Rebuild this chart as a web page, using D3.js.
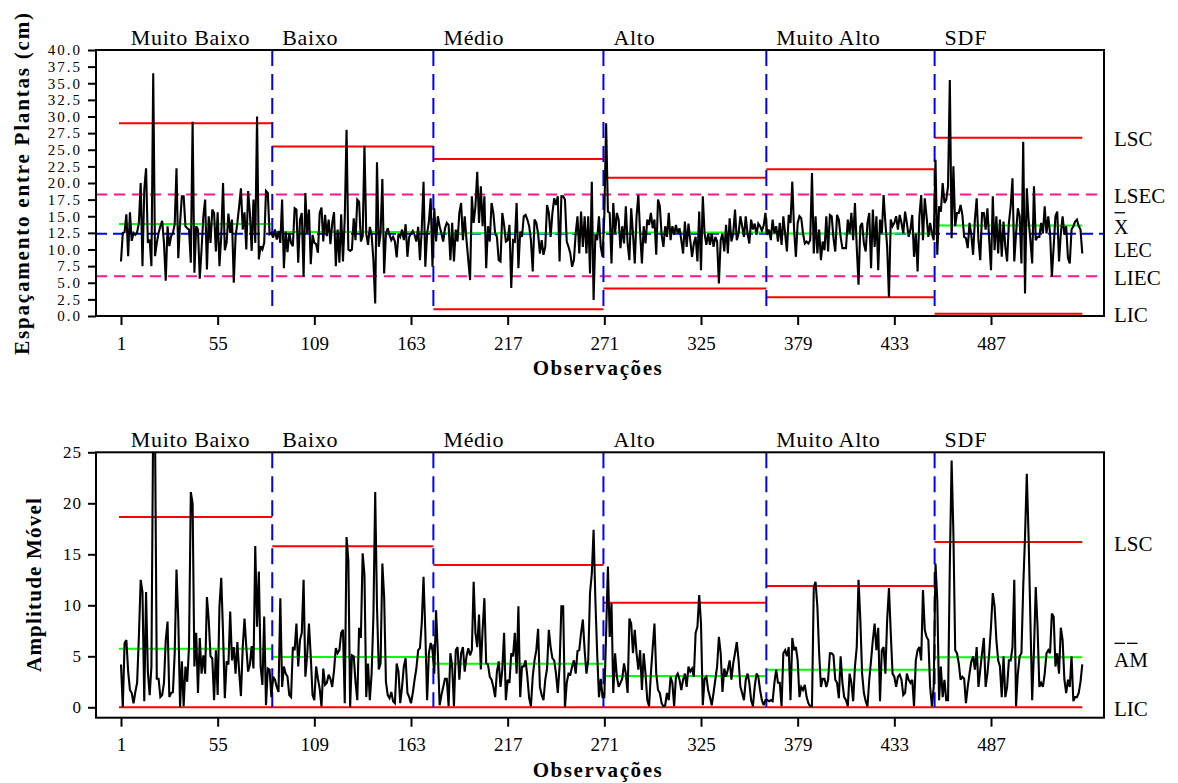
<!DOCTYPE html>
<html><head><meta charset="utf-8">
<script src="https://cdn.jsdelivr.net/npm/d3@7"></script>
<style>
body{margin:0;background:#fff}
svg{display:block}
text{font-family:"Liberation Serif","Times New Roman",serif;fill:#000}
</style>
</head><body>
<svg id="chart" width="1178" height="783"></svg>
<script>
// ---------------- DATA ----------------
const groups = ["Muito Baixo","Baixo","Médio","Alto","Muito Alto","SDF"];
const groupSizes = [85, 90, 95, 91, 94, 83];

// Individual values: plant spacing (cm)
const espMuitoBaixo = [8.2,12.5,12.6,15.3,9.0,15.6,11.3,12.5,12.2,12.6,14.0,20.0,7.5,19.0,22.2,11.0,11.5,7.5,36.5,9.0,
 11.0,12.5,13.5,14.3,11.0,5.3,13.5,10.5,12.0,12.5,13.8,22.2,8.7,14.0,18.0,18.0,13.5,13.2,13.0,8.0,
 29.2,6.5,13.5,13.0,5.6,10.0,15.0,17.5,7.0,15.0,11.0,16.0,15.5,9.7,15.6,7.5,12.0,20.0,9.9,11.0,
 15.4,12.5,14.5,5.0,12.0,14.0,16.5,19.2,13.0,15.6,10.0,18.8,15.5,9.8,17.5,11.0,30.0,8.5,10.5,10.0,
 11.0,18.8,18.5,12.3,12.5];
const espBaixo = [11.8,13.0,11.5,12.8,11.0,17.5,7.2,12.7,9.6,12.5,11.0,10.5,16.2,16.0,8.0,14.5,15.5,5.9,18.5,12.5,
 16.0,7.8,12.2,11.0,10.8,9.5,15.5,16.3,11.2,15.2,12.0,14.5,10.8,14.0,15.6,7.5,13.0,8.0,15.3,8.2,
 14.7,28.0,10.0,9.8,10.0,14.7,11.4,17.5,17.2,11.2,12.0,25.6,12.4,10.7,13.4,12.2,8.4,1.9,23.1,10.4,
 12.4,20.6,6.4,12.4,13.2,12.2,11.4,11.9,11.2,8.8,12.4,11.9,13.0,11.4,13.8,8.9,11.9,12.4,12.8,12.2,
 11.2,13.4,8.4,13.0,20.2,7.4,12.4,14.2,17.7,7.4];
const espMedio = [16.2,11.2,15.0,13.5,12.4,11.2,13.2,14.0,13.7,8.4,14.0,8.2,13.0,11.2,15.5,17.0,11.4,15.0,11.4,8.4,
 5.4,18.0,14.0,16.5,21.7,14.0,19.5,13.5,18.0,7.2,13.5,11.2,17.0,15.5,12.4,11.9,8.4,8.2,15.5,13.7,
 11.2,11.4,13.7,4.2,11.4,11.2,17.0,7.2,12.7,11.9,15.0,15.2,14.5,13.5,11.4,6.7,14.5,14.0,12.4,9.4,
 11.4,9.2,10.4,16.7,15.5,11.9,15.5,17.7,16.7,18.0,8.2,18.0,18.0,17.5,11.2,10.4,9.4,7.4,8.4,12.4,
 15.0,9.4,15.7,10.4,15.0,9.4,15.0,6.4,20.2,2.4,12.2,11.4,15.0,10.4,8.9];
const espAlto = [15.2,29.0,15.7,15.5,7.9,17.0,12.4,15.5,14.5,10.2,13.5,10.9,16.5,10.9,8.4,16.2,12.4,7.9,15.0,18.2,
 12.4,7.9,13.5,10.9,14.5,13.7,15.5,13.2,14.5,9.2,17.5,16.5,12.2,10.4,13.5,11.9,15.5,11.4,13.5,12.2,
 13.7,12.4,13.2,11.4,9.4,14.2,10.4,13.9,11.4,8.9,10.9,11.9,8.2,15.7,6.9,18.0,12.4,10.7,12.4,10.7,
 12.4,10.4,11.9,11.2,4.9,11.4,12.4,9.7,13.7,9.4,14.7,11.2,12.4,16.0,11.4,12.4,15.0,13.5,11.9,15.0,
 12.4,10.9,14.5,13.0,13.9,12.2,13.9,13.5,12.8,13.6,15.5];
const espMuitoAlto = [12.2,13.0,11.4,14.5,12.4,13.5,11.2,14.0,10.7,15.0,12.4,9.7,15.2,14.0,20.2,13.0,8.9,14.0,15.0,14.7,
 12.4,10.9,11.2,10.9,11.4,21.5,9.4,15.0,9.4,13.0,8.4,11.2,9.9,15.0,9.7,15.2,15.0,11.7,9.7,15.2,
 14.5,11.9,10.2,10.2,10.2,14.5,12.4,15.5,11.4,17.0,10.4,4.7,13.5,14.0,10.9,9.7,14.0,15.5,7.2,16.0,
 10.4,15.0,6.9,14.5,12.4,18.2,14.0,10.4,2.8,14.5,13.5,14.0,15.0,13.0,15.2,14.0,12.4,15.7,14.0,11.9,
 13.0,15.2,8.9,12.4,6.7,15.0,18.2,11.4,17.7,15.0,11.9,14.0,12.4,11.4];
const espSDF = [23.5,9.2,16.5,15.7,20.0,17.0,17.5,19.5,35.5,11.7,22.5,13.5,15.5,15.5,16.7,15.2,11.9,11.7,10.2,14.0,
 12.2,9.2,14.5,17.7,11.4,8.4,15.5,15.5,13.0,16.2,11.4,6.9,18.0,9.9,15.0,9.4,14.5,8.9,14.2,10.4,
 8.2,14.0,16.5,20.7,8.2,12.4,16.2,15.0,7.9,26.2,3.4,19.2,14.5,11.4,7.9,19.5,11.4,11.9,11.9,14.0,
 12.4,16.5,12.4,15.0,12.4,5.9,10.4,15.0,15.7,8.2,12.4,15.0,12.2,13.5,8.7,7.9,13.0,13.5,14.2,14.5,
 13.5,13.0,9.4];

// Moving ranges
const amMuitoBaixo = [4.2,0.0,6.3,6.6,3.5,1.7,1.4,0.4,1.5,2.4,7.0,12.5,11.3,0.6,11.3,3.5,1.2,4.0,28.9,27.3,
 2.8,2.8,1.0,1.2,2.4,6.6,8.4,1.0,1.4,1.5,5.3,13.5,8.6,0.0,4.5,0.1,4.0,2.5,6.0,21.1,
 20.0,4.0,7.3,1.4,6.8,3.3,5.1,3.3,10.8,8.6,5.0,4.8,0.7,5.6,1.2,9.9,12.7,7.3,0.9,4.5,
 4.2,9.4,4.6,5.9,3.3,6.4,3.5,1.1,5.9,8.7,5.9,3.5,4.2,6.0,3.8,15.8,7.9,13.3,4.0,2.2,
 8.9,0.2,3.8,3.7,1.0];
const amBaixo = [3.0,2.7,2.0,1.5,10.7,2.0,4.0,3.3,3.0,1.2,1.0,5.9,5.6,8.2,4.0,6.6,7.3,12.5,3.0,5.1,
 8.2,5.0,1.2,0.7,4.0,2.8,1.8,0.1,3.8,2.2,2.4,3.2,2.8,2.0,3.6,5.8,5.3,5.6,7.3,7.6,
 0.4,16.7,14.4,0.0,5.1,5.0,2.5,0.7,7.8,6.8,15.1,13.0,1.0,4.3,0.7,3.3,8.9,21.1,9.9,3.7,
 4.3,14.1,10.8,2.5,1.2,0.9,1.5,0.6,0.4,4.3,3.5,0.4,2.0,4.0,4.8,1.4,1.0,0.4,1.4,2.7,
 3.8,5.6,5.8,8.2,12.8,7.4,0.7,5.3,6.3,5.6];
const amMedio = [3.3,9.5,5.3,0.2,1.2,2.0,2.8,2.8,0.1,5.3,4.0,0.1,5.6,5.9,2.7,5.3,5.9,3.5,5.0,5.8,
 5.1,5.6,12.3,7.3,5.9,9.1,3.7,7.6,10.7,4.3,4.2,3.0,2.7,2.0,1.0,3.5,4.5,2.0,3.7,7.3,
 0.7,2.7,2.4,5.3,5.0,7.3,3.3,9.9,1.0,4.0,4.0,4.6,3.0,0.9,0.1,3.0,4.6,5.6,7.7,2.0,
 1.2,0.7,2.7,3.8,7.6,5.9,4.8,4.6,3.3,1.4,4.0,9.9,9.9,0.0,2.4,3.3,3.2,4.0,4.6,3.3,
 5.5,5.6,7.3,8.6,5.6,3.3,4.6,11.2,13.1,17.4,10.5,5.3,1.0,2.8,1.0];
const amAlto = [1.0,7.3,13.8,6.9,10.2,1.4,5.3,3.0,2.0,2.4,2.8,4.3,3.3,1.4,8.7,8.2,5.3,7.6,5.3,3.7,
 5.6,1.7,5.3,3.3,0.7,0.1,3.3,5.8,8.2,3.3,1.7,1.4,0.4,0.1,0.2,1.4,0.7,3.0,2.4,0.1,
 3.0,3.3,2.7,1.7,2.7,3.3,2.0,4.0,3.5,3.8,3.0,7.3,7.9,11.0,8.2,0.2,2.8,3.0,1.7,1.0,
 0.2,1.4,2.7,4.0,6.9,5.3,1.5,3.8,3.0,3.7,4.6,2.7,4.3,5.3,6.4,4.6,2.0,1.4,0.7,2.7,
 3.3,2.4,0.7,0.1,2.0,3.3,3.0,1.7,0.7,0.2,0.7];
const amMuitoAlto = [0.7,0.6,0.7,0.6,2.4,3.7,2.4,2.4,0.1,5.3,5.6,5.0,5.9,0.7,6.8,5.6,5.9,4.6,1.0,2.0,
 1.7,2.2,1.0,0.4,0.1,0.1,11.8,12.3,9.9,5.3,2.0,2.8,2.8,2.0,2.7,5.3,5.3,5.1,2.7,2.4,
 0.9,5.0,2.4,1.0,0.7,0.1,3.3,2.4,0.6,4.0,5.9,12.5,8.6,3.3,1.4,0.6,0.1,2.7,4.6,6.6,
 8.2,5.6,7.8,0.6,5.6,5.9,3.3,8.6,11.7,7.3,3.3,3.0,2.0,3.0,3.2,2.7,1.2,1.4,3.3,2.7,
 2.4,2.7,0.1,4.6,5.6,5.9,4.6,11.5,7.6,6.9,6.6,2.0,0.1,2.0];
const amSDF = [14.1,10.5,0.7,4.0,1.0,2.7,0.7,0.7,14.0,24.2,17.0,5.6,5.3,4.3,2.7,3.0,2.8,0.4,2.0,3.3,
 4.5,5.0,3.7,5.9,2.0,3.7,5.3,6.8,2.0,3.3,5.3,7.9,11.2,9.9,6.6,4.6,4.0,1.0,5.0,1.0,
 2.0,4.6,4.6,5.9,12.5,0.1,3.3,5.0,5.3,11.8,16.7,22.9,16.7,8.6,0.7,5.6,11.8,7.9,2.0,2.4,
 2.0,3.3,5.3,5.6,5.3,9.2,8.9,4.0,5.3,3.3,7.8,6.6,2.7,1.4,2.7,2.0,5.0,0.6,1.0,1.0,
 1.4,2.5,4.2];

// Control limits per group
const lscInd = [29.0, 25.5, 23.6, 20.8, 22.07, 26.8];
const centerInd = [13.85, 12.65, 12.45, 12.55, 12.4, 13.6];
const licInd = [null, null, 1.03, 4.13, 2.83, 0.33];
const grandMean = 12.35, lsecInd = 18.26, liecInd = 5.98;
const lscAM = [18.66, 15.78, 13.95, 10.25, 11.9, 16.2];
const centerAM = [5.75, 4.93, 4.28, 3.07, 3.69, 4.9];
const licAM = [0, 0, 0, 0, 0, 0];

const xTickValues = [1, 55, 109, 163, 217, 271, 325, 379, 433, 487];
const yTickValuesTop = [0,2.5,5,7.5,10,12.5,15,17.5,20,22.5,25,27.5,30,32.5,35,37.5,40];
const yTickValuesBottom = [0, 5, 10, 15, 20, 25];

// ---------------- DRAW ----------------
const esp = [].concat(espMuitoBaixo, espBaixo, espMedio, espAlto, espMuitoAlto, espSDF);
const am = [].concat(amMuitoBaixo, amBaixo, amMedio, amAlto, amMuitoAlto, amSDF);

const svg = d3.select("#chart");
const L = 96, R = 1104;
const x = d3.scaleLinear().domain([1, 487]).range([121, 991]);
const yT = d3.scaleLinear().domain([0, 40]).range([316, 50]);
const yB = d3.scaleLinear().domain([0, 25]).range([707.3, 452.3]);

let s = 1;
const segs = groupSizes.map((n, i) => { const st = s; s += n; return {i, name: groups[i], start: st, end: st + n - 1}; });
const last = segs.length - 1;
const sx0 = g => g.i === 0 ? x(1) - 2 : x(g.start - 0.5);
const sx1 = g => g.i === last ? x(g.end) : x(g.end + 0.5);

const RED = "#ff0000", GREEN = "#00ff00", BLUE = "#0000ff", PINK = "#ff1493";

const defs = svg.append("defs");
function panel(o) {
  const g = svg.append("g");
  const clipId = "clip" + o.id;
  defs.append("clipPath").attr("id", clipId).append("rect")
    .attr("x", L).attr("y", o.frameTop).attr("width", R - L).attr("height", o.frameBottom - o.frameTop);
  const gc = g.append("g").attr("clip-path", `url(#${clipId})`);
  const y = o.y;

  (o.globals || []).forEach(gl => {
    gc.append("line").attr("x1", L).attr("x2", R).attr("y1", y(gl.v)).attr("y2", y(gl.v))
      .attr("stroke", gl.color).attr("stroke-width", 2).attr("stroke-dasharray", gl.dash);
  });
  gc.selectAll(null).data(segs).join("line")
    .attr("x1", sx0).attr("x2", sx1)
    .attr("y1", d => y(o.center[d.i])).attr("y2", d => y(o.center[d.i]))
    .attr("stroke", GREEN).attr("stroke-width", 2);
  gc.selectAll(null).data(segs).join("line")
    .attr("x1", sx0).attr("x2", sx1)
    .attr("y1", d => y(o.lsc[d.i])).attr("y2", d => y(o.lsc[d.i]))
    .attr("stroke", RED).attr("stroke-width", 2);
  gc.selectAll(null).data(segs.filter(d => o.lic[d.i] !== null)).join("line")
    .attr("x1", sx0).attr("x2", sx1)
    .attr("y1", d => y(o.lic[d.i])).attr("y2", d => y(o.lic[d.i]))
    .attr("stroke", RED).attr("stroke-width", 2);
  gc.selectAll(null).data(segs.slice(1)).join("line")
    .attr("x1", d => x(d.start - 0.5)).attr("x2", d => x(d.start - 0.5))
    .attr("y1", o.frameTop).attr("y2", o.vEnd)
    .attr("stroke", BLUE).attr("stroke-width", 2).attr("stroke-dasharray", "16,8");
  const line = d3.line().x((d, i) => x(i + 1)).y(d => y(d));
  gc.append("path").datum(o.values).attr("d", line)
    .attr("fill", "none").attr("stroke", "#000").attr("stroke-width", 2.1)
    .attr("stroke-linejoin", "miter").attr("stroke-miterlimit", 3);

  g.append("rect").attr("x", L).attr("y", o.frameTop).attr("width", R - L).attr("height", o.frameBottom - o.frameTop)
    .attr("fill", "none").attr("stroke", "#000").attr("stroke-width", 2);

  const ya = g.append("g").attr("transform", `translate(${L},0)`)
    .call(d3.axisLeft(y).tickValues(o.yTicks).tickFormat(o.yFormat).tickSize(8).tickPadding(6));
  ya.select(".domain").remove();
  ya.selectAll(".tick line").attr("stroke", "#000").attr("stroke-width", 2);
  ya.selectAll(".tick text").style("font-family", '"Liberation Serif",serif').style("font-size", o.yFontSize + "px")
    .style("letter-spacing", o.yLetter + "px").attr("fill", "#000");

  const xa = g.append("g").attr("transform", `translate(0,${o.frameBottom})`)
    .call(d3.axisBottom(x).tickValues(xTickValues).tickFormat(d3.format("d")).tickSize(9));
  xa.select(".domain").remove();
  xa.selectAll(".tick line").attr("stroke", "#000").attr("stroke-width", 2);
  xa.selectAll(".tick text").attr("y", 27).attr("dy", "0.35em")
    .style("font-family", '"Liberation Serif",serif').style("font-size", "19px").attr("fill", "#000");

  g.append("text").attr("x", 598).attr("y", o.frameBottom + 59).attr("text-anchor", "middle")
    .style("font-size", "21px").style("font-weight", "bold").style("letter-spacing", "1.6px")
    .text("Observações");

  g.append("text").attr("transform", `translate(${o.yTitleX},${o.yTitleY}) rotate(-90)`)
    .attr("text-anchor", "middle").style("font-size", "21px").style("font-weight", "bold")
    .style("letter-spacing", o.yTitleLetter + "px").text(o.yTitle);

  g.selectAll(null).data(segs).join("text")
    .attr("x", d => d.i === 0 ? x(1) + 9.7 : x(d.start - 0.5) + 10)
    .attr("y", o.frameTop - 5.5)
    .style("font-size", "22px").style("letter-spacing", "0.7px")
    .text(d => d.name);

  o.rightLabels.forEach(rl => {
    g.append("text").attr("x", 1114).attr("y", rl.y).style("font-size", (rl.size || 21) + "px").text(rl.t);
  });
  (o.bars || []).forEach(b => {
    g.append("line").attr("x1", b.x1).attr("x2", b.x2).attr("y1", b.y).attr("y2", b.y)
      .attr("stroke", "#000").attr("stroke-width", 1.3);
  });
}

panel({
  id: "T", y: yT, frameTop: 50, frameBottom: 316, vEnd: 308,
  values: esp, center: centerInd, lsc: lscInd, lic: licInd,
  globals: [
    {v: lsecInd, color: PINK, dash: "11,7"},
    {v: liecInd, color: PINK, dash: "11,7"},
    {v: grandMean, color: BLUE, dash: "11,6"}
  ],
  yTicks: yTickValuesTop, yFormat: d3.format(".1f"), yFontSize: 15, yLetter: 2,
  yTitle: "Espaçamento entre Plantas (cm)", yTitleX: 29, yTitleY: 183, yTitleLetter: 1.8,
  rightLabels: [
    {t: "LSC", y: yT(lscInd[5]) + 8.5},
    {t: "LSEC", y: yT(lsecInd) + 8.2},
    {t: "X", y: yT(centerInd[5]) + 8.2, size: 20},
    {t: "LEC", y: yT(centerInd[5]) + 31.6, size: 20},
    {t: "LIEC", y: yT(liecInd) + 8.6},
    {t: "LIC", y: yT(licInd[5]) + 7.8}
  ],
  bars: [{x1: 1114.5, x2: 1125, y: yT(centerInd[5]) - 12.8}]
});
panel({
  id: "B", y: yB, frameTop: 452.3, frameBottom: 717.7, vEnd: 707.3,
  values: am, center: centerAM, lsc: lscAM, lic: licAM,
  globals: [],
  yTicks: yTickValuesBottom, yFormat: d3.format("d"), yFontSize: 17, yLetter: 1,
  yTitle: "Amplitude Móvel", yTitleX: 41, yTitleY: 584.5, yTitleLetter: 1.2,
  rightLabels: [
    {t: "LSC", y: yB(lscAM[5]) + 9.3},
    {t: "AM", y: yB(centerAM[5]) + 9.2},
    {t: "LIC", y: yB(0) + 8.5}
  ],
  bars: [{x1: 1114.5, x2: 1125, y: yB(centerAM[5]) - 14}, {x1: 1127, x2: 1137.5, y: yB(centerAM[5]) - 14}]
});
</script>
</body></html>
